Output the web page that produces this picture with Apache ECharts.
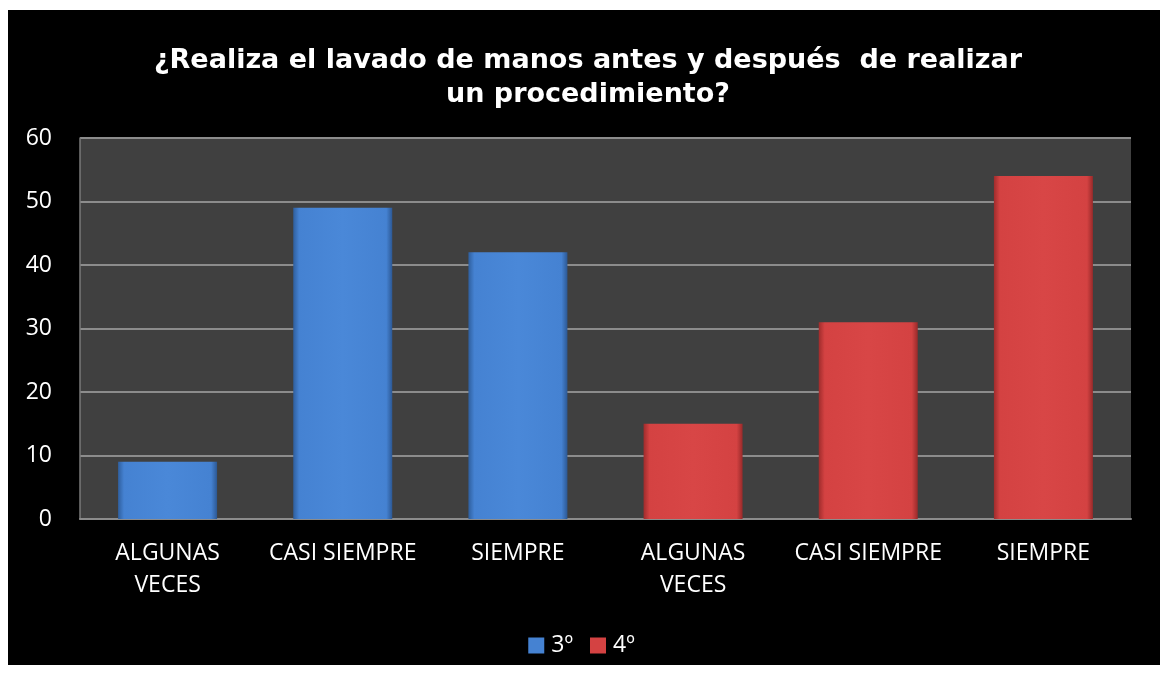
<!DOCTYPE html>
<html><head><meta charset="utf-8">
<script src="https://cdn.jsdelivr.net/npm/echarts@6/dist/echarts.min.js"></script>
<style>html,body{margin:0;padding:0;background:#fff}#c{width:1163px;height:675px}</style>
</head><body><div id="c"></div>
<script>
const categories = ['ALGUNAS\nVECES', 'CASI SIEMPRE', 'SIEMPRE', 'ALGUNAS\nVECES', 'CASI SIEMPRE', 'SIEMPRE'];
const series3 = [9, 49, 42, '-', '-', '-'];
const series4 = ['-', '-', '-', 15, 31, 54];
const yTicks = {min: 0, max: 60, interval: 10};

const blue = new echarts.graphic.LinearGradient(0, 0, 1, 0, [
  {offset: 0, color: '#2f5f9e'}, {offset: 0.06, color: '#4582d2'},
  {offset: 0.5, color: '#4a88d8'},
  {offset: 0.94, color: '#4582d2'}, {offset: 1, color: '#2c5894'}]);
const red = new echarts.graphic.LinearGradient(0, 0, 1, 0, [
  {offset: 0, color: '#a02c2c'}, {offset: 0.06, color: '#d44242'},
  {offset: 0.5, color: '#d84646'},
  {offset: 0.94, color: '#d44242'}, {offset: 1, color: '#982a2a'}]);

const chart = echarts.init(document.getElementById('c'));
chart.setOption({
  backgroundColor: '#fff',
  animation: false,
  graphic: [{type: 'rect', z: -10, shape: {x: 8, y: 10, width: 1152, height: 655}, style: {fill: '#000'}}],
  title: {
    text: '¿Realiza el lavado de manos antes y después  de realizar\nun procedimiento?',
    left: 583, top: 39, textAlign: 'center',
    textStyle: {color: '#fff', fontFamily: 'DejaVu Sans', fontWeight: 'bold', fontSize: 27, lineHeight: 34}
  },
  legend: {
    top: 629, left: 'center', itemWidth: 16, itemHeight: 16, itemGap: 17,
    textStyle: {color: '#fff', fontSize: 23, fontFamily: 'Open Sans', padding: [0, 0, 0, 2]},
    data: [{name: '3º', icon: 'rect', itemStyle: {color: '#4582d2'}}, {name: '4º', icon: 'rect', itemStyle: {color: '#d44242'}}]
  },
  grid: {left: 80, right: 32, top: 138, bottom: 156, show: true, backgroundColor: '#404040', borderWidth: 0},
  xAxis: {
    type: 'category', data: categories,
    axisLine: {lineStyle: {color: '#8c8c8c', width: 2}}, axisTick: {show: false},
    axisLabel: {color: '#fff', fontSize: 23, fontFamily: 'Open Sans', lineHeight: 32, margin: 18, interval: 0}
  },
  yAxis: {
    type: 'value', min: yTicks.min, max: yTicks.max, interval: yTicks.interval,
    axisLine: {show: true, lineStyle: {color: '#7a7a7a', width: 1.5}}, axisTick: {show: false},
    splitLine: {lineStyle: {color: '#8c8c8c', width: 2}},
    axisLabel: {color: '#fff', fontSize: 23, fontFamily: 'Open Sans', margin: 28}
  },
  series: [
    {name: '3º', type: 'bar', stack: 's', data: series3, barWidth: 99, itemStyle: {color: blue}},
    {name: '4º', type: 'bar', stack: 's', data: series4, barWidth: 99, itemStyle: {color: red}}
  ]
});
</script></body></html>
